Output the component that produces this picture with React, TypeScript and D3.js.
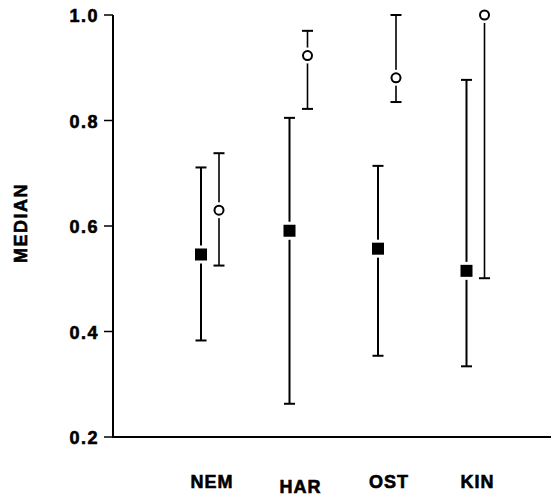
import React, { useEffect, useRef } from 'react';
import * as d3 from 'd3';

const categories = ['NEM', 'HAR', 'OST', 'KIN'];

// filled squares
const squareMedian = [0.546, 0.591, 0.557, 0.515];
const squareLow = [0.383, 0.263, 0.354, 0.334];
const squareHigh = [0.711, 0.805, 0.714, 0.877];

// open circles
const circleMedian = [0.63, 0.923, 0.881, 1.0];
const circleLow = [0.525, 0.822, 0.835, 0.501];
const circleHigh = [0.738, 0.97, 1.0, 1.0];

const yTicks = [0.2, 0.4, 0.6, 0.8, 1.0];

const W = 551;
const H = 496;
const FONT = '"Liberation Sans", Arial, Helvetica, sans-serif';

const App = () => {
  const svgRef = useRef<SVGSVGElement>(null);

  useEffect(() => {
    const svg = d3.select(svgRef.current);
    svg.selectAll('*').remove();

    const axisX = 113;
    const axisY0 = 437;
    const axisY1 = 15;

    const x = d3.scalePoint<string>()
      .domain(categories)
      .range([210, 475.5]);

    const y = d3.scaleLinear()
      .domain([0.2, 1.0])
      .range([axisY0, axisY1]);

    const offset = 9;
    const capHalf = 5.5;

    // heavy bold text like the original print
    const styleText = (sel: any, spacing: string) => sel
      .style('font-family', FONT)
      .style('font-weight', 'bold')
      .style('font-size', '18px')
      .style('letter-spacing', spacing)
      .attr('stroke', '#000')
      .attr('stroke-width', 0.6);

    // axes
    svg.append('line')
      .attr('x1', axisX).attr('x2', axisX)
      .attr('y1', y(1.0)).attr('y2', y(0.2))
      .attr('stroke', '#000').attr('stroke-width', 2);
    svg.append('line')
      .attr('x1', axisX - 1).attr('x2', W)
      .attr('y1', y(0.2)).attr('y2', y(0.2))
      .attr('stroke', '#000').attr('stroke-width', 2);

    const ticks = svg.append('g');
    ticks.selectAll('line')
      .data(yTicks)
      .enter().append('line')
      .attr('x1', axisX - 9).attr('x2', axisX)
      .attr('y1', d => y(d)).attr('y2', d => y(d))
      .attr('stroke', '#000').attr('stroke-width', 1.5);
    styleText(ticks.selectAll('text')
      .data(yTicks)
      .enter().append('text')
      .attr('x', 99)
      .attr('y', d => y(d) + 7)
      .attr('text-anchor', 'end'), '1.5px')
      .text(d => d.toFixed(1));

    // y label
    styleText(svg.append('text')
      .attr('transform', 'translate(27,223) rotate(-90)')
      .attr('text-anchor', 'middle'), '1.5px')
      .text('MEDIAN');

    // category labels
    styleText(svg.append('g').selectAll('text')
      .data(categories)
      .enter().append('text')
      .attr('x', d => (x(d) as number) + 2)
      .attr('y', (d) => d === 'HAR' ? 493 : 488)
      .attr('text-anchor', 'middle'), '1px')
      .text(d => d);

    const drawSeries = (med: number[], lo: number[], hi: number[], dx: number, lineW: number, kind: string) => {
      const g = svg.append('g');
      categories.forEach((c, i) => {
        const cx = (x(c) as number) + dx;
        g.append('line')
          .attr('x1', cx).attr('x2', cx)
          .attr('y1', y(lo[i])).attr('y2', y(hi[i]))
          .attr('stroke', '#000').attr('stroke-width', lineW);
        [lo[i], hi[i]].forEach(v => {
          g.append('line')
            .attr('x1', cx - capHalf).attr('x2', cx + capHalf)
            .attr('y1', y(v)).attr('y2', y(v))
            .attr('stroke', '#000').attr('stroke-width', 2);
        });
        if (kind === 'square') {
          g.append('rect')
            .attr('x', cx - 9).attr('y', y(med[i]) - 9)
            .attr('width', 18).attr('height', 18)
            .attr('fill', '#fff');
          g.append('rect')
            .attr('x', cx - 6).attr('y', y(med[i]) - 6)
            .attr('width', 12).attr('height', 12)
            .attr('fill', '#000');
        } else {
          g.append('circle')
            .attr('cx', cx).attr('cy', y(med[i]))
            .attr('r', 8).attr('fill', '#fff');
          g.append('circle')
            .attr('cx', cx).attr('cy', y(med[i]))
            .attr('r', 4.5)
            .attr('fill', '#fff')
            .attr('stroke', '#000')
            .attr('stroke-width', 2);
        }
      });
    };

    drawSeries(squareMedian, squareLow, squareHigh, -offset, 2, 'square');
    drawSeries(circleMedian, circleLow, circleHigh, offset, 1.6, 'circle');
  }, []);

  return (
    <svg
      ref={svgRef}
      width={W}
      height={H}
      style={{ position: 'absolute', left: 0, top: 0, background: '#fff' }}
    />
  );
};

export default App;
